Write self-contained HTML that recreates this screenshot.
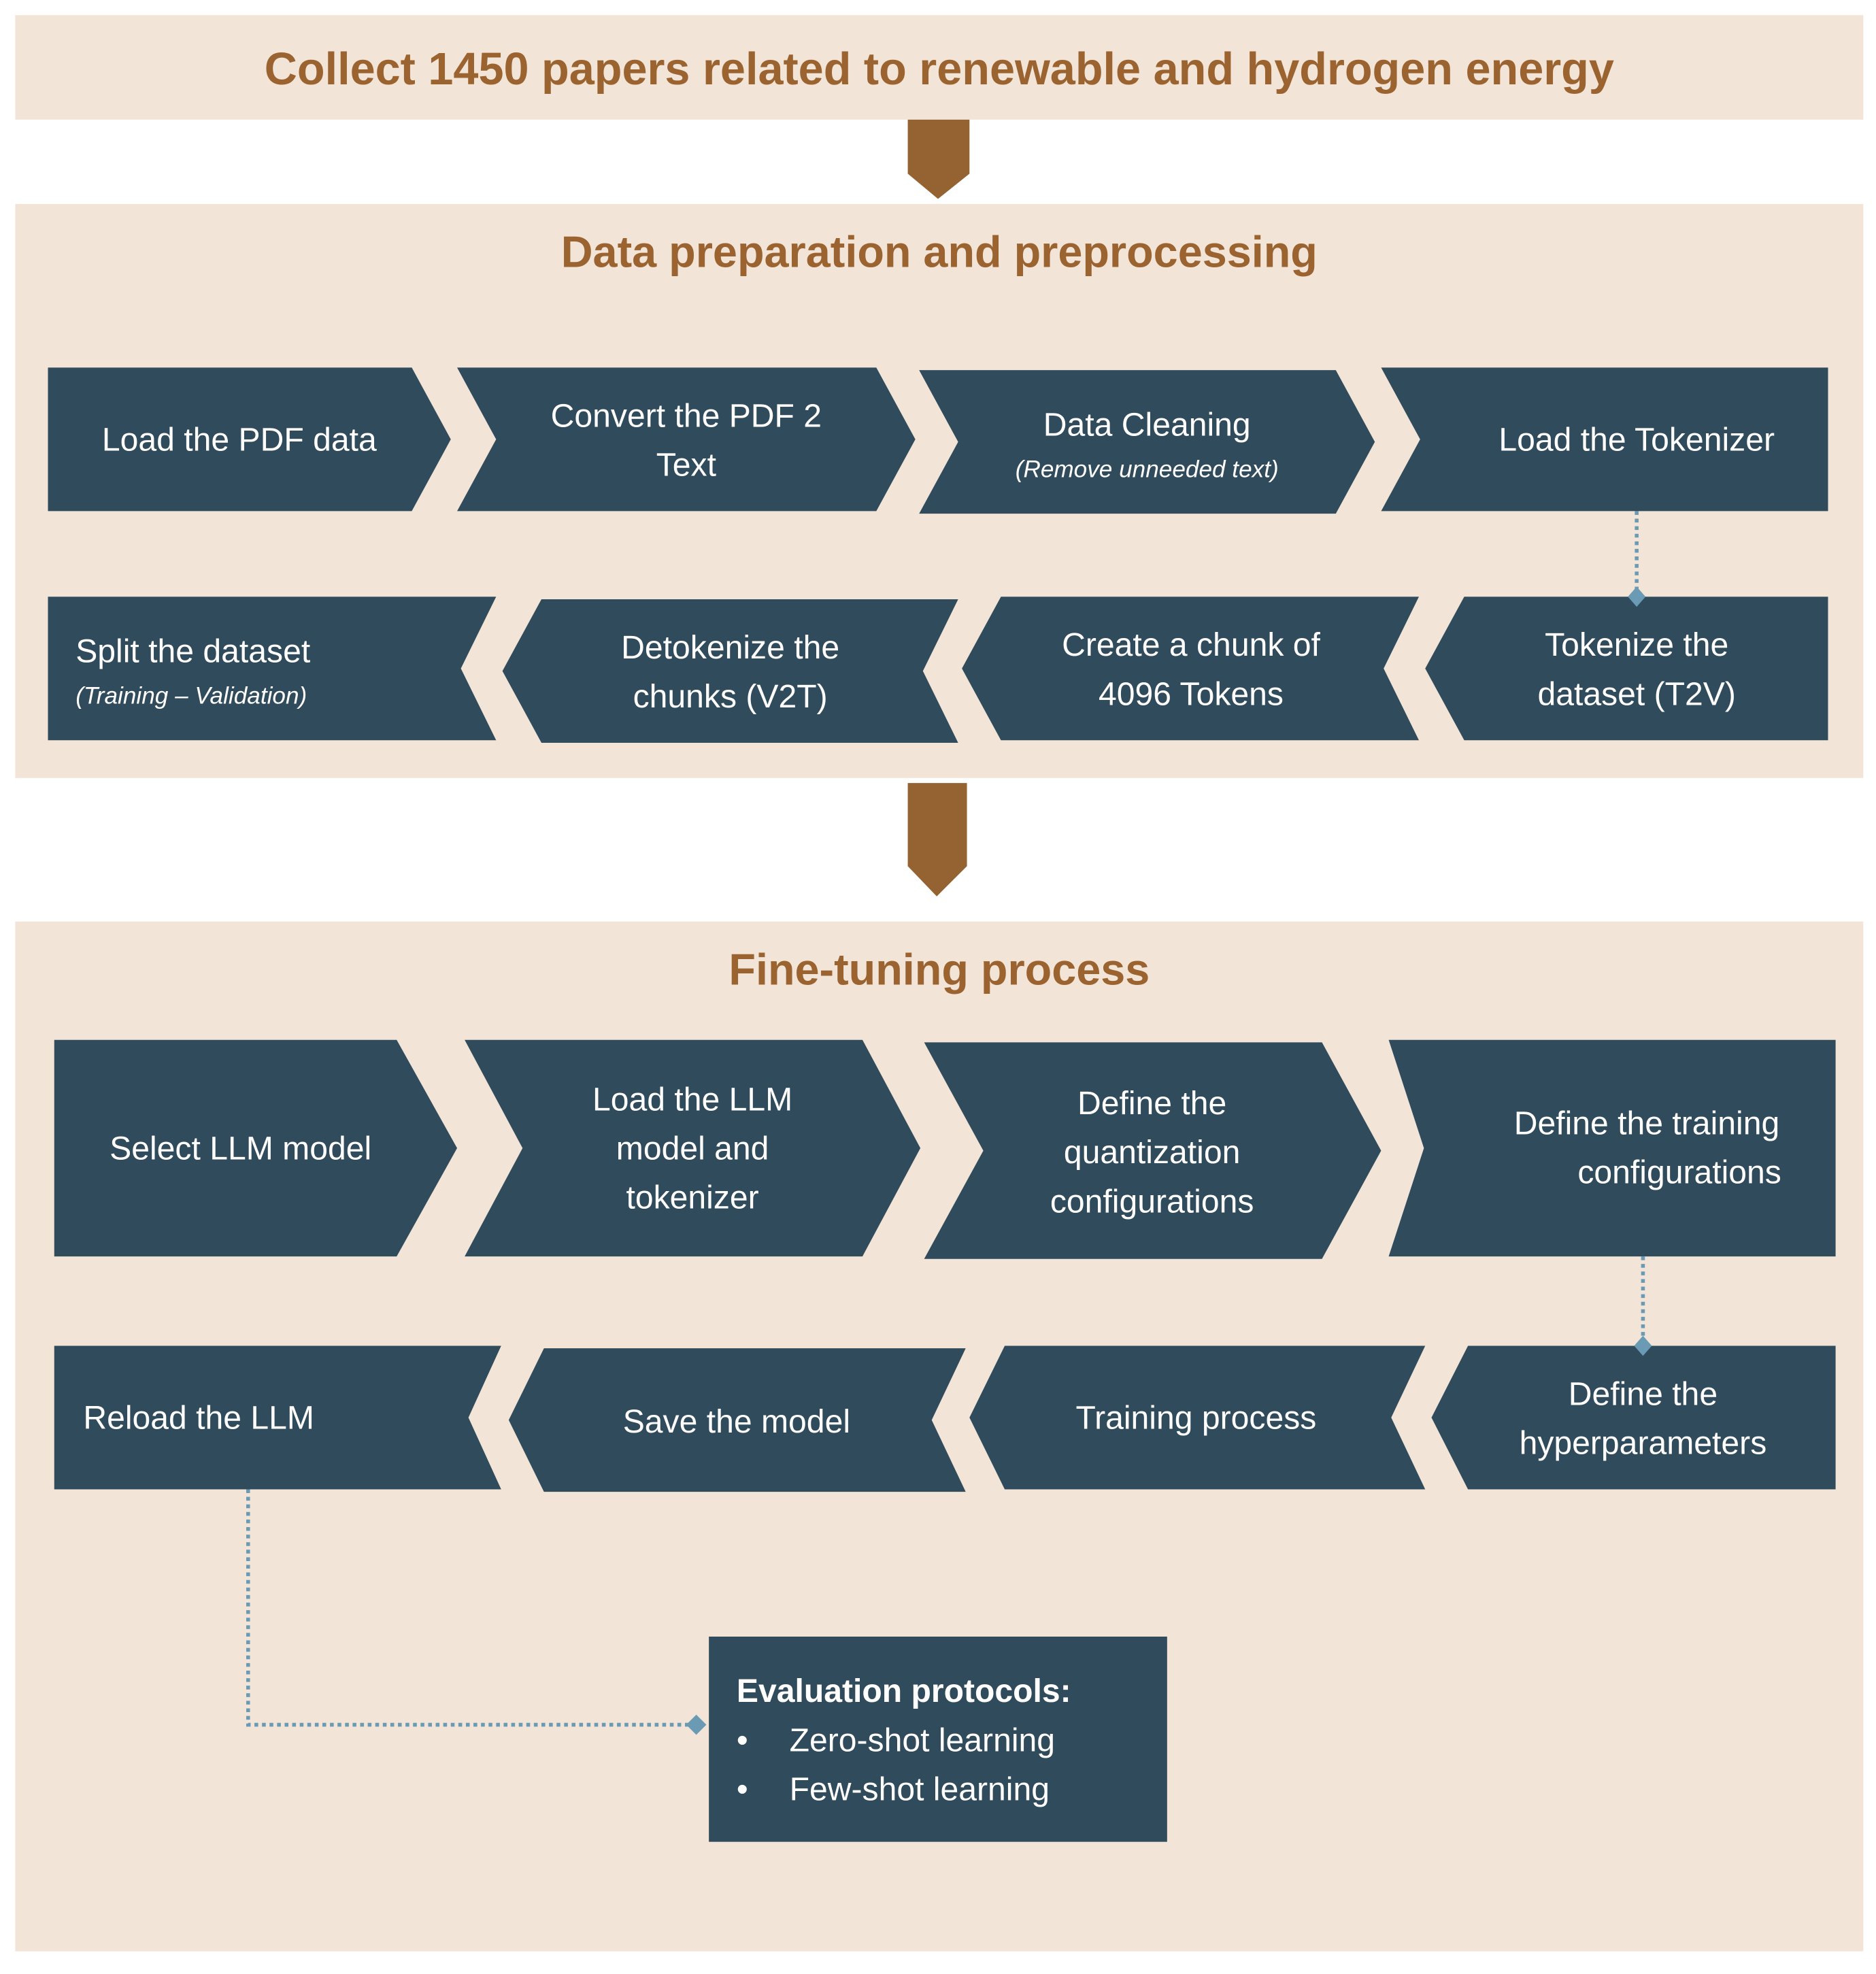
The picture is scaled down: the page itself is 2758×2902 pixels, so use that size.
<!DOCTYPE html>
<html><head><meta charset="utf-8">
<style>
html,body{margin:0;padding:0;background:#fff;}
svg{display:block;}
text{font-family:"Liberation Sans",sans-serif;}
</style></head>
<body>
<svg width="2758" height="2902" viewBox="0 0 1490 1568" xmlns="http://www.w3.org/2000/svg">
<rect x="0" y="0" width="1490" height="1568" fill="#ffffff"/>
<!-- top band -->
<rect x="12" y="12" width="1468" height="83" fill="#f2e4d7"/>
<text x="746" y="67" text-anchor="middle" font-size="36" font-weight="bold" fill="#9b6330">Collect 1450 papers related to renewable and hydrogen energy</text>
<polygon points="721,95 770,95 770,138 745,158 721,138" fill="#956232"/>
<!-- section 2 -->
<rect x="12" y="162" width="1468" height="456" fill="#f2e4d7"/>
<text x="746" y="212" text-anchor="middle" font-size="35" font-weight="bold" fill="#9b6330">Data preparation and preprocessing</text>
<g fill="#304b5b">
<polygon points="38,292 327,292 358,349 327,406 38,406"/>
<polygon points="363,292 696,292 727,349 696,406 363,406 394,349"/>
<polygon points="730,294 1061,294 1092,351 1061,408 730,408 761,351"/>
<polygon points="1097,292 1452,292 1452,406 1097,406 1128,349"/>
<polygon points="38,474 394,474 366,531 394,588 38,588"/>
<polygon points="430,476 761,476 733,533 761,590 430,590 399,533"/>
<polygon points="795,474 1127,474 1099,531 1127,588 795,588 764,531"/>
<polygon points="1163,474 1452,474 1452,588 1163,588 1132,531"/>
</g>
<line x1="1300" y1="406" x2="1300" y2="468" stroke="#6b9ab4" stroke-width="3" stroke-dasharray="3,3"/>
<polygon points="1300,466 1307,474 1300,482 1293,474" fill="#6b9ab4"/>
<g fill="#ffffff" font-size="26">
<text x="190" y="358" text-anchor="middle">Load the PDF data</text>
<text x="545" y="339" text-anchor="middle">Convert the PDF 2</text>
<text x="545" y="378" text-anchor="middle">Text</text>
<text x="911" y="346" text-anchor="middle">Data Cleaning</text>
<text x="911" y="379" text-anchor="middle" font-size="19" font-style="italic">(Remove unneeded text)</text>
<text x="1300" y="358" text-anchor="middle">Load the Tokenizer</text>
<text x="60" y="526">Split the dataset</text>
<text x="60" y="559" font-size="19" font-style="italic">(Training – Validation)</text>
<text x="580" y="523" text-anchor="middle">Detokenize the</text>
<text x="580" y="562" text-anchor="middle">chunks (V2T)</text>
<text x="946" y="521" text-anchor="middle">Create a chunk of</text>
<text x="946" y="560" text-anchor="middle">4096 Tokens</text>
<text x="1300" y="521" text-anchor="middle">Tokenize the</text>
<text x="1300" y="560" text-anchor="middle">dataset (T2V)</text>
</g>
<polygon points="721,622 768,622 768,688 744,712 721,688" fill="#956232"/>
<!-- section 3 -->
<rect x="12" y="732" width="1468" height="818" fill="#f2e4d7"/>
<text x="746" y="782" text-anchor="middle" font-size="35" font-weight="bold" fill="#9b6330">Fine-tuning process</text>
<g fill="#304b5b">
<polygon points="43,826 315,826 363,912 315,998 43,998"/>
<polygon points="369,826 685,826 731,912 685,998 369,998 415,912"/>
<polygon points="734,828 1050,828 1097,914 1050,1000 734,1000 781,914"/>
<polygon points="1103,826 1458,826 1458,998 1103,998 1131,912"/>
<polygon points="43,1069 398,1069 372,1126 398,1183 43,1183"/>
<polygon points="432,1071 767,1071 740,1128 767,1185 432,1185 404,1128"/>
<polygon points="798,1069 1132,1069 1105,1126 1132,1183 798,1183 770,1126"/>
<polygon points="1166,1069 1458,1069 1458,1183 1166,1183 1137,1126"/>
<rect x="563" y="1300" width="364" height="163"/>
</g>
<line x1="1305" y1="998" x2="1305" y2="1063" stroke="#6b9ab4" stroke-width="3" stroke-dasharray="3,3"/>
<polygon points="1305,1061 1312,1069 1305,1077 1298,1069" fill="#6b9ab4"/>
<polyline points="197,1183 197,1370 547,1370" fill="none" stroke="#6b9ab4" stroke-width="3" stroke-dasharray="3,3"/>
<polygon points="545,1370 553,1362 561,1370 553,1378" fill="#6b9ab4"/>
<g fill="#ffffff" font-size="26">
<text x="191" y="921" text-anchor="middle">Select LLM model</text>
<text x="550" y="882" text-anchor="middle">Load the LLM</text>
<text x="550" y="921" text-anchor="middle">model and</text>
<text x="550" y="960" text-anchor="middle">tokenizer</text>
<text x="915" y="885" text-anchor="middle">Define the</text>
<text x="915" y="924" text-anchor="middle">quantization</text>
<text x="915" y="963" text-anchor="middle">configurations</text>
<text x="1308" y="901" text-anchor="middle">Define the training</text>
<text x="1334" y="940" text-anchor="middle">configurations</text>
<text x="66" y="1135">Reload the LLM</text>
<text x="585" y="1138" text-anchor="middle">Save the model</text>
<text x="950" y="1135" text-anchor="middle">Training process</text>
<text x="1305" y="1116" text-anchor="middle">Define the</text>
<text x="1305" y="1155" text-anchor="middle">hyperparameters</text>
<text x="585" y="1352" font-weight="bold">Evaluation protocols:</text>
<text x="585" y="1391">•</text>
<text x="627" y="1391">Zero-shot learning</text>
<text x="585" y="1430">•</text>
<text x="627" y="1430">Few-shot learning</text>
</g>
</svg>
</body></html>
